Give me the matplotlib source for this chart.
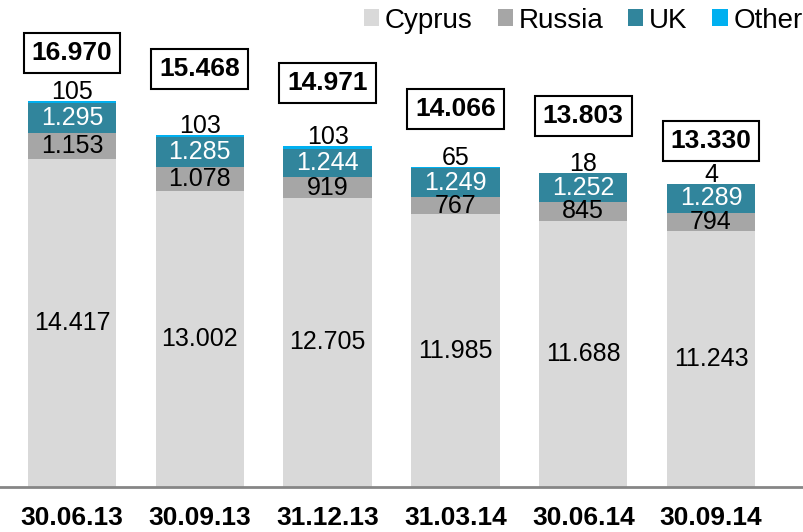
import numpy as np
import matplotlib.pyplot as plt

plt.rcParams['font.family'] = ['Liberation Sans', 'DejaVu Sans']

dates = ['30.06.13', '30.09.13', '31.12.13', '31.03.14', '30.06.14', '30.09.14']
cyprus = [14417, 13002, 12705, 11985, 11688, 11243]
russia = [1153, 1078, 919, 767, 845, 794]
uk = [1295, 1285, 1244, 1249, 1252, 1289]
other = [105, 103, 103, 65, 18, 4]
totals = [16970, 15468, 14971, 14066, 13803, 13330]

colors = ['#D9D9D9', '#A6A6A6', '#31859C', '#00B0F0']
names = ['Cyprus', 'Russia', 'UK', 'Other']
txt_colors = ['black', 'black', 'white']

# offset of total boxes above the bars (pixels)
box_off = [48, 66, 63, 58, 57, 43]

fig = plt.figure(figsize=(8.04, 5.32), dpi=100)
ax = fig.add_axes([0, 45 / 532, 1, 455 / 532])

x = np.arange(len(dates))
w = 0.69
bottom = np.zeros(len(dates))
for i, vals in enumerate([cyprus, russia, uk, other]):
    vals = np.array(vals)
    ax.bar(x, vals, w, bottom=bottom, color=colors[i], label=names[i])
    if i < 3:
        for xi, b, v in zip(x, bottom, vals):
            ax.text(xi, b + v / 2, f"{v:,}".replace(',', '.'), ha='center', va='center',
                    fontsize=18, color=txt_colors[i])
    else:
        for xi, b, v in zip(x, bottom, vals):
            ax.annotate(str(v), (xi, b + v), xytext=(0, 2), textcoords='offset pixels',
                        ha='center', va='baseline', fontsize=18)
    bottom = bottom + vals

for xi, t, off in zip(x, totals, box_off):
    ax.annotate(f"{t:,}".replace(',', '.'), (xi, t), xytext=(0, off), textcoords='offset pixels',
                ha='center', va='center', fontsize=19, fontweight='bold',
                bbox=dict(boxstyle='square,pad=0.3', fc='white', ec='black', lw=1.5))

ax.set_xlim(-72 / 128, 5 + 93 / 128)
ax.set_ylim(0, 455 / 0.02275)
for s in ['top', 'right', 'left']:
    ax.spines[s].set_visible(False)
ax.spines['bottom'].set_color('#868686')
ax.spines['bottom'].set_linewidth(2)
ax.set_yticks([])
ax.set_xticks(x)
ax.set_xticklabels(dates, fontsize=19, fontweight='bold')
ax.tick_params(axis='x', length=0, pad=14)

ax.legend(loc='upper right', bbox_to_anchor=(1.012, 1.078), ncol=4, frameon=False, fontsize=20,
          handlelength=0.55, handleheight=0.55, handletextpad=0.2, columnspacing=0.9,
          borderaxespad=0)

fig.savefig('out.png', dpi=100)
